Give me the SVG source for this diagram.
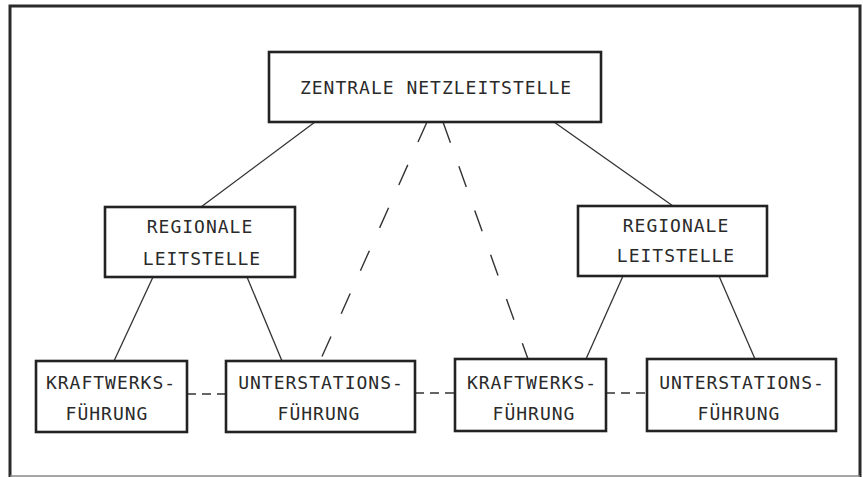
<svg xmlns="http://www.w3.org/2000/svg" width="863" height="477" viewBox="0 0 863 477">
<style>
.box{fill:#fff;stroke:#222;stroke-width:2.6}
.t{font-family:"DejaVu Sans Mono","Liberation Mono",monospace;font-size:18px;letter-spacing:1px;fill:#2a2a2a;text-anchor:middle}
.ln{stroke:#333;stroke-width:1.3;fill:none}
.dd{stroke:#333;stroke-width:1.4;fill:none;stroke-dasharray:22 25}
.dh{stroke:#333;stroke-width:1.4;fill:none;stroke-dasharray:9 6}
</style>
<rect width="863" height="477" fill="#fff"/>
<g id="frame" fill="none" stroke="#2a2a2a">
<path d="M10 477 V6 H860 V477" stroke-width="3"/>
<path d="M10 476 H860" stroke-width="1.5" stroke="#888"/>
</g>
<g id="connectors">
<line class="ln" x1="315" y1="122" x2="201" y2="207"/>
<line class="ln" x1="554" y1="122" x2="673" y2="206"/>
<line class="ln" x1="153" y1="277" x2="114" y2="361"/>
<line class="ln" x1="247" y1="277" x2="282" y2="361"/>
<line class="ln" x1="623" y1="276" x2="586" y2="359"/>
<line class="ln" x1="719" y1="276" x2="755" y2="359"/>
<line class="dd" x1="427" y1="122" x2="320" y2="361"/>
<line class="dd" x1="443" y1="122" x2="528" y2="359"/>
<line class="dh" x1="187" y1="394" x2="226" y2="394"/>
<line class="dh" x1="415" y1="393" x2="455" y2="393"/>
<line class="dh" x1="606" y1="393" x2="647" y2="393"/>
</g>
<g id="zentrale">
<rect class="box" x="269" y="52" width="332" height="70"/>
<text class="t" x="436" y="94">ZENTRALE NETZLEITSTELLE</text>
</g>
<g id="regional-links">
<rect class="box" x="105" y="207" width="190" height="70"/>
<text class="t" x="200" y="233">REGIONALE</text>
<text class="t" x="202" y="265">LEITSTELLE</text>
</g>
<g id="regional-rechts">
<rect class="box" x="578" y="206" width="189" height="70"/>
<text class="t" x="676" y="232">REGIONALE</text>
<text class="t" x="676" y="262">LEITSTELLE</text>
</g>
<g id="kraftwerk-links">
<rect class="box" x="36" y="361" width="151" height="71"/>
<text class="t" x="111" y="389">KRAFTWERKS-</text>
<text class="t" x="107" y="420">FÜHRUNG</text>
</g>
<g id="unterstation-links">
<rect class="box" x="226" y="361" width="189" height="71"/>
<text class="t" x="321" y="389">UNTERSTATIONS-</text>
<text class="t" x="319" y="420">FÜHRUNG</text>
</g>
<g id="kraftwerk-mitte">
<rect class="box" x="455" y="359" width="151" height="72"/>
<text class="t" x="532" y="389">KRAFTWERKS-</text>
<text class="t" x="534" y="420">FÜHRUNG</text>
</g>
<g id="unterstation-rechts">
<rect class="box" x="647" y="359" width="189" height="72"/>
<text class="t" x="742" y="389">UNTERSTATIONS-</text>
<text class="t" x="739" y="420">FÜHRUNG</text>
</g>
</svg>
